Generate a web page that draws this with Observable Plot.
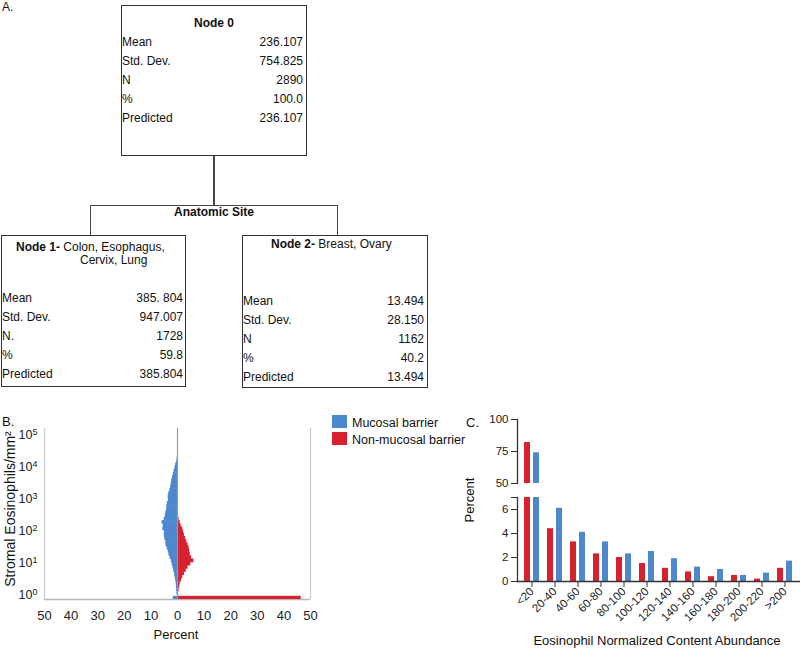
<!DOCTYPE html>
<html>
<head>
<meta charset="utf-8">
<script src="https://cdn.jsdelivr.net/npm/d3@7"></script>
<script src="https://cdn.jsdelivr.net/npm/@observablehq/plot@0.6"></script>
<style>
  html, body { margin: 0; padding: 0; background: #fff; }
  #fig { position: relative; width: 800px; height: 650px; overflow: hidden;
         font-family: "Liberation Sans", Arial, Helvetica, sans-serif; color: #111; }
  .t { position: absolute; white-space: nowrap; font-size: 12px; line-height: 14px; }
  .box { position: absolute; border: 1.5px solid #333; box-sizing: border-box; }
  .ln { position: absolute; background: #444; }
  .abs { position: absolute; }
</style>
</head>
<body>
<div id="fig"></div>
<script>
// ---------------- DATA ----------------
// Panel A: regression tree
const rowLabels0 = ["Mean", "Std. Dev.", "N", "%", "Predicted"];
const rowLabels1 = ["Mean", "Std. Dev.", "N.", "%", "Predicted"];
const rowLabels2 = ["Mean", "Std. Dev.", "N", "%", "Predicted"];
const node0Values = ["236.107", "754.825", "2890", "100.0", "236.107"];
const node1Values = ["385. 804", "947.007", "1728", "59.8", "385.804"];
const node2Values = ["13.494", "28.150", "1162", "40.2", "13.494"];
const splitLabel = "Anatomic Site";

// Panel B: mirrored log-binned histogram (bin lower edge as log10 exponent, width 0.1)
const mucosalExp = [0.0,0.1,0.2,0.3,0.4,0.5,0.6,0.7,0.8,0.9,1.0,1.1,1.2,1.3,1.4,1.5,1.6,1.7,1.8,1.9,2.0,
                    2.1,2.2,2.3,2.4,2.5,2.6,2.7,2.8,2.9,3.0,3.1,3.2,3.3,3.4,3.5,3.6,3.7,3.8,3.9,4.0,4.1,4.2];
const mucosalPct = [0.2,0.3,0.4,0.5,0.7,0.9,1.1,1.4,1.7,2.0,2.3,2.8,3.2,3.5,3.9,4.3,4.4,4.8,5.0,4.9,5.5,
                    5.3,5.8,5.0,4.6,4.4,4.1,4.0,3.8,3.4,3.5,3.3,2.9,2.6,2.4,2.2,1.9,1.6,1.3,1.0,0.7,0.3,0.1];
const nonMucosalExp = [0.0,0.1,0.2,0.3,0.4,0.5,0.6,0.7,0.8,0.9,1.0,1.1,1.2,1.3,1.4,1.5,1.6,1.7,1.8,1.9,2.0,2.1,2.2,2.3,2.4,2.5];
const nonMucosalPct = [0.4,0.6,0.8,1.0,1.5,2.0,2.6,3.3,4.0,5.0,6.2,5.3,4.8,4.6,4.4,4.0,3.5,3.1,2.6,2.3,2.0,1.4,1.0,0.6,0.3,0.1];
const zeroBinMucosal = 1.6;      // cases with 0 eosinophils
const zeroBinNonMucosal = 46.5;
const bXTicks = [-50,-40,-30,-20,-10,0,10,20,30,40,50];
const bYTicks = [1, 10, 100, 1000, 10000, 100000];

// Panel C: grouped bars
const cCategories = ["<20","20-40","40-60","60-80","80-100","100-120","120-140","140-160","160-180","180-200","200-220",">200"];
const cNonMucosal = [82, 4.4, 3.3, 2.3, 2.0, 1.5, 1.1, 0.8, 0.4, 0.5, 0.2, 1.1];
const cMucosal    = [74, 6.1, 4.1, 3.3, 2.3, 2.5, 1.9, 1.2, 1.0, 0.5, 0.7, 1.7];
const seriesNames = ["Mucosal barrier", "Non-mucosal barrier"];

const BLUE = "#4d88cf";
const RED = "#d7212f";
const FONT = '"Liberation Sans", Arial, Helvetica, sans-serif';

// ---------------- HELPERS ----------------
const fig = document.getElementById("fig");
function txt(str, left, cy, opts = {}) {
  const s = document.createElement("div");
  s.className = "t";
  s.textContent = str;
  const lh = opts.lh || 14;
  s.style.lineHeight = lh + "px";
  s.style.top = (cy - lh / 2) + "px";
  if (opts.size) s.style.fontSize = opts.size + "px";
  if (opts.bold) s.style.fontWeight = "bold";
  if (opts.align === "right") { s.style.left = (left - 300) + "px"; s.style.width = "300px"; s.style.textAlign = "right"; }
  else if (opts.align === "center") { s.style.left = (left - 150) + "px"; s.style.width = "300px"; s.style.textAlign = "center"; }
  else s.style.left = left + "px";
  if (opts.rotate) { s.style.transform = "rotate(-90deg)"; }
  fig.appendChild(s);
  return s;
}
function rich(parts, left, cy) {
  const s = document.createElement("div");
  s.className = "t";
  s.style.left = left + "px";
  s.style.top = (cy - 7) + "px";
  for (const [str, bold] of parts) {
    const sp = document.createElement("span");
    sp.textContent = str;
    if (bold) sp.style.fontWeight = "bold";
    s.appendChild(sp);
  }
  fig.appendChild(s);
}
function box(l, t, w, h) {
  const b = document.createElement("div");
  b.className = "box";
  Object.assign(b.style, {left: l + "px", top: t + "px", width: w + "px", height: h + "px"});
  fig.appendChild(b);
}
function line(l, t, w, h) {
  const b = document.createElement("div");
  b.className = "ln";
  Object.assign(b.style, {left: l + "px", top: t + "px", width: w + "px", height: h + "px"});
  fig.appendChild(b);
}
function place(el, l, t) {
  el.style.position = "absolute";
  el.style.left = l + "px";
  el.style.top = t + "px";
  fig.appendChild(el);
}

// ---------------- PANEL A ----------------
txt("A.", 2, 7, {size: 12});
box(121, 5, 186, 151);
txt("Node 0", 214, 23, {bold: true, align: "center"});
const rows0 = [42, 61, 80, 99, 118];
rowLabels0.forEach((l, i) => { txt(l, 122, rows0[i]); txt(node0Values[i], 303, rows0[i], {align: "right"}); });

line(213, 156, 1.5, 49);
line(90, 204.5, 248, 1.5);
line(89.5, 205, 1.5, 30);
line(336.5, 205, 1.5, 30);
txt(splitLabel, 214, 212, {bold: true, align: "center"});

box(1, 235, 185, 152);
rich([["Node 1- ", true], ["Colon, Esophagus,", false]], 16, 247);
txt("Cervix, Lung", 80, 260);
const rows1 = [298, 317, 336, 355, 374];
rowLabels1.forEach((l, i) => { txt(l, 2, rows1[i]); txt(node1Values[i], 183, rows1[i], {align: "right"}); });

box(242, 235, 186, 153);
rich([["Node 2- ", true], ["Breast, Ovary", false]], 271, 244);
const rows2 = [301, 320, 339, 358, 377];
rowLabels2.forEach((l, i) => { txt(l, 243, rows2[i]); txt(node2Values[i], 424, rows2[i], {align: "right"}); });

// ---------------- PANEL B ----------------
const mucRows = mucosalExp.map((e, i) => ({lo: 10 ** e, hi: 10 ** (e + 0.1), v: mucosalPct[i]}));
const nonRows = nonMucosalExp.map((e, i) => ({lo: 10 ** e, hi: 10 ** (e + 0.1), v: nonMucosalPct[i]}));
const yMinB = 10 ** -0.15;
const zeroRows = [
  {lo: yMinB, hi: 10 ** -0.05, x1: -zeroBinMucosal, x2: 0, c: BLUE},
  {lo: yMinB, hi: 10 ** -0.05, x1: 0, x2: zeroBinNonMucosal, c: RED}
];
const plotB = Plot.plot({
  width: 330, height: 230,
  marginLeft: 44, marginRight: 20, marginTop: 8, marginBottom: 51,
  style: {fontFamily: FONT, color: "#222", background: "transparent"},
  x: {domain: [-50, 50]},
  y: {type: "log", domain: [yMinB, 10 ** 5.2]},
  marks: [
    Plot.ruleX([-50, 50], {stroke: "#c9c9c9", strokeWidth: 1.2}),
    Plot.ruleY([yMinB], {stroke: "#b8b8b8", strokeWidth: 1.5}),
    Plot.rect(mucRows, {x1: () => 0, x2: d => -d.v, y1: "lo", y2: "hi", fill: BLUE, insetTop: -0.6}),
    Plot.rect(nonRows, {x1: () => 0, x2: d => d.v, y1: "lo", y2: "hi", fill: RED, insetTop: -0.6}),
    Plot.rect(zeroRows, {x1: "x1", x2: "x2", y1: "lo", y2: "hi", fill: "c"}),
    Plot.ruleX([0], {stroke: "#9a9a9a", strokeWidth: 1.2}),
    Plot.axisX({ticks: bXTicks, tickFormat: d => Math.abs(d), tickSize: 0, tickPadding: 11, fontSize: 13, label: null}),
    Plot.axisY({ticks: bYTicks, tickFormat: d => "10^" + Math.round(Math.log10(d)), tickSize: 0, tickPadding: 7, fontSize: 12.5, label: null})
  ]
});
// superscript exponents
{
  const ns = "http://www.w3.org/2000/svg";
  for (const t of plotB.querySelectorAll("text")) {
    if (!t.textContent.includes("^")) continue;
    const [b, e] = t.textContent.split("^");
    t.textContent = "";
    const s1 = document.createElementNS(ns, "tspan"); s1.textContent = b;
    const s2 = document.createElementNS(ns, "tspan"); s2.textContent = e;
    s2.setAttribute("dy", "-0.45em"); s2.setAttribute("font-size", "0.72em");
    t.appendChild(s1); t.appendChild(s2);
  }
}
place(plotB, 0, 420);
txt("B.", 2, 422, {size: 13});
txt("Percent", 176, 635, {size: 13, align: "center"});
txt("Stromal Eosinophils/mm²", 10, 509, {size: 14, align: "center", rotate: true, lh: 16});

// Legend
[[BLUE, seriesNames[0], 415, 423], [RED, seriesNames[1], 432, 440]].forEach(([c, name, top, cy]) => {
  const sq = document.createElement("div");
  sq.className = "abs";
  Object.assign(sq.style, {left: "332px", top: top + "px", width: "15px", height: "13px", background: c});
  fig.appendChild(sq);
  txt(name, 352, cy, {size: 12.5});
});

// ---------------- PANEL C ----------------
const cRows = cCategories.map((c, i) => ({cat: c, non: cNonMucosal[i], muc: cMucosal[i]}));
const xC = {domain: cCategories, paddingInner: 0.34, paddingOuter: 0.1};
const plotCTop = Plot.plot({
  width: 340, height: 92,
  marginLeft: 57, marginRight: 0, marginTop: 19, marginBottom: 9,
  style: {fontFamily: FONT, color: "#222", background: "transparent"},
  x: {...xC, axis: null},
  y: {domain: [50, 100]},
  marks: [
    Plot.barY(cRows.filter(d => d.non > 50), {x: "cat", y1: () => 50, y2: "non", fill: RED, insetRight: 9}),
    Plot.barY(cRows.filter(d => d.muc > 50), {x: "cat", y1: () => 50, y2: "muc", fill: BLUE, insetLeft: 9}),
    Plot.frame({anchor: "left", stroke: "#333", strokeWidth: 1.3}),
    Plot.axisY({ticks: [50, 75, 100], tickSize: 6, tickPadding: 3, fontSize: 11.5, label: null, stroke: "#333"})
  ]
});
place(plotCTop, 460, 400);

const plotCBot = Plot.plot({
  width: 340, height: 160,
  marginLeft: 57, marginRight: 0, marginTop: 7, marginBottom: 69,
  style: {fontFamily: FONT, color: "#222", background: "transparent"},
  x: xC,
  y: {domain: [0, 7]},
  marks: [
    Plot.barY(cRows, {x: "cat", y: "non", fill: RED, insetRight: 9, clip: true}),
    Plot.barY(cRows, {x: "cat", y: "muc", fill: BLUE, insetLeft: 9, clip: true}),
    Plot.frame({anchor: "left", stroke: "#333", strokeWidth: 1.3}),
    Plot.ruleY([0], {stroke: "#333", strokeWidth: 1.3}),
    Plot.axisY({ticks: [0, 2, 4, 6, 7], tickFormat: d => (d === 7 ? "" : d), tickSize: 6, tickPadding: 3, fontSize: 11.5, label: null, stroke: "#333"}),
    Plot.axisX({tickRotate: -45, tickSize: 6, tickPadding: 2, fontSize: 11.5, label: null, stroke: "#333"})
  ]
});
place(plotCBot, 460, 490);
txt("C.", 466, 423, {size: 13});
txt("Percent", 470, 500, {size: 13, align: "center", rotate: true, lh: 16});
txt("Eosinophil Normalized Content Abundance", 657, 641, {size: 13, align: "center"});
</script>
</body>
</html>
